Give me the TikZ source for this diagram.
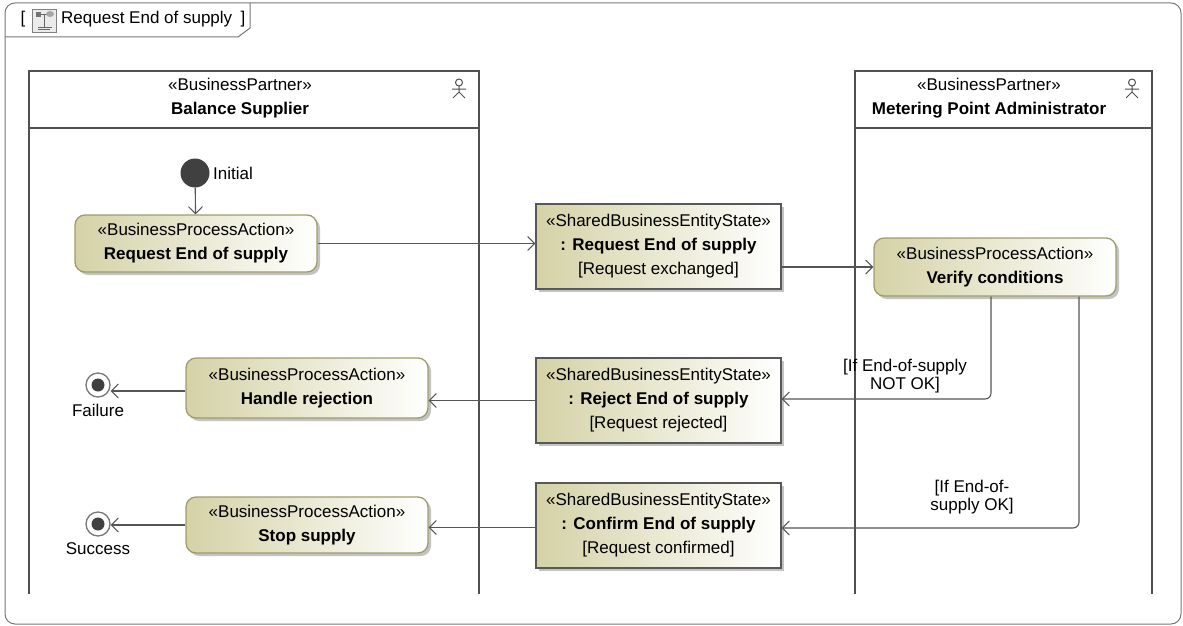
\documentclass[tikz,border=0pt]{standalone}
\usepackage{fontspec}
\setmainfont{Liberation Sans}
\usetikzlibrary{arrows.meta,shadows,calc}
\definecolor{olv}{RGB}{212,210,166}
\definecolor{olvborder}{RGB}{158,156,108}
\definecolor{boxborder}{RGB}{88,88,88}
\definecolor{lanecol}{RGB}{80,80,80}
\definecolor{framecol}{RGB}{120,120,120}
\definecolor{linecol}{RGB}{85,85,85}
\definecolor{dotcol}{RGB}{64,64,64}
\definecolor{shadowcol}{RGB}{195,195,195}
\begin{document}
\begin{tikzpicture}[x=1pt,y=-1pt,
  txt/.style={font=\fontsize{17}{24}\selectfont, inner sep=0pt, align=center},
  action/.style={txt, draw=olvborder, line width=1.3pt, rounded corners=10pt,
    left color=olv, right color=white,
    drop shadow={shadow xshift=3pt, shadow yshift=-3pt, fill=shadowcol, opacity=1}},
  sbes/.style={txt, draw=boxborder, line width=1.3pt,
    left color=olv, right color=white,
    drop shadow={shadow xshift=3pt, shadow yshift=-3pt, fill=shadowcol, opacity=1}},
  lane/.style={draw=lanecol, line width=2.2pt},
  arr/.style={draw=linecol, line width=1.1pt, -{Straight Barb[length=7pt,width=14pt,line width=1pt]}},
  guard/.style={font=\fontsize{17}{18}\selectfont, inner sep=0pt, align=center},
  finalnode/.style={circle, draw=framecol, line width=1.3pt, fill=white, minimum size=24pt, inner sep=0pt,
    path picture={\fill[dotcol] (path picture bounding box.center) circle (6.5pt);}},
  initnode/.style={circle, fill=dotcol, minimum size=29pt, inner sep=0pt},
  actor/.style={draw=lanecol, line width=1pt}
]
\useasboundingbox (0,0) rectangle (1183,626);

% frame
\draw[framecol, line width=1pt, rounded corners=10pt] (5,3) rectangle (1181,624);
\draw[framecol, line width=1pt] (5,37) -- (238,37) -- (250,28) -- (250,3);
\node[txt, anchor=center] (lb) at (23,19) {[};
\node[txt, anchor=west] (title) at (61,19) {Request End of supply};
\node[txt, anchor=center] (rb) at (243,19) {]};
% tab icon
\draw[gray, fill=black!8, line width=0.8pt] (32,9) rectangle (56,32);
\fill[black!55] (36,12) rectangle (41,17);
\draw[black!60, line width=1pt] (41,14.5) -- (47,14.5);
\fill[black!35] (50,14) ellipse (4pt and 3pt);
\draw[black!60, line width=1pt] (44,15) -- (44,27);
\draw[black!60, line width=1pt] (38,27.5) -- (52,27.5);
\draw[black!60, line width=1pt] (38,30) -- (50,30);

% lanes
\draw[lane] (29,594) -- (29,71) -- (479,71) -- (479,594);
\draw[lane] (29,128) -- (479,128);
\draw[lane] (855,594) -- (855,71) -- (1152,71) -- (1152,594);
\draw[lane] (855,128) -- (1152,128);
\node[txt] (h1) at (240,98) {«BusinessPartner»\\\textbf{Balance Supplier}};
\node[txt] (h2) at (989,98) {«BusinessPartner»\\\textbf{Metering Point Administrator}};
% actor icons
\foreach \ax in {459,1132}{
  \draw[actor] (\ax,82.5) circle (3.5pt);
  \draw[actor] (\ax,86) -- (\ax,92) (\ax-7,89) -- (\ax+7,89) (\ax-6,98) -- (\ax,92) -- (\ax+6,98);
}

% nodes
\node[initnode] (init) at (195,173) {};
\node[txt, anchor=west] (initl) at (213,173) {Initial};

\node[action, minimum width=242pt, minimum height=57pt] (a1) at (196,243.5)
  {«BusinessProcessAction»\\\textbf{Request End of supply}};
\node[sbes, minimum width=245pt, minimum height=85pt] (s1) at (658.5,246.5)
  {«SharedBusinessEntityState»\\\textbf{: Request End of supply}\\{}[Request exchanged]};
\node[action, minimum width=242pt, minimum height=58pt] (v) at (995,267)
  {«BusinessProcessAction»\\\textbf{Verify conditions}};

\node[sbes, minimum width=245pt, minimum height=85pt] (r) at (658.5,400.5)
  {«SharedBusinessEntityState»\\\textbf{: Reject End of supply}\\{}[Request rejected]};
\node[sbes, minimum width=245pt, minimum height=85pt] (c) at (658.5,525.5)
  {«SharedBusinessEntityState»\\\textbf{: Confirm End of supply}\\{}[Request confirmed]};

\node[action, minimum width=242pt, minimum height=60pt] (hr) at (307,388)
  {«BusinessProcessAction»\\\textbf{Handle rejection}};
\node[action, minimum width=242pt, minimum height=56pt] (st) at (307,525)
  {«BusinessProcessAction»\\\textbf{Stop supply}};

\node[finalnode] (fail) at (98,385) {};
\node[txt] (faill) at (98,410) {Failure};
\node[finalnode] (succ) at (98,524) {};
\node[txt] (succl) at (98,549) {Success};

% connectors
\draw[arr] (init) -- (a1);
\draw[arr] (a1.east) -- (a1.east -| s1.west);
\draw[arr] (v.west -| s1.east) -- (v.west);
\draw[arr, rounded corners=6pt] ([xshift=-4pt]v.south) |- ([yshift=1.5pt]r.east);
\draw[arr, rounded corners=6pt] ([xshift=84pt]v.south) |- ([yshift=-2.5pt]c.east);
\draw[arr] (r.west) -- (r.west -| hr.east);
\draw[arr] ([yshift=-2pt]c.west) -- ([yshift=-2pt]c.west -| st.east);
\draw[arr] ([yshift=-3pt]hr.west) -- ([yshift=-3pt]hr.west -| fail.east);
\draw[arr] (st.west) -- (st.west -| succ.east);

\node[guard] (g1) at (905,376) {[If End-of-supply\\NOT OK]};
\node[guard] (g2) at (972,497) {[If End-of-\\supply OK]};
\end{tikzpicture}
\end{document}
